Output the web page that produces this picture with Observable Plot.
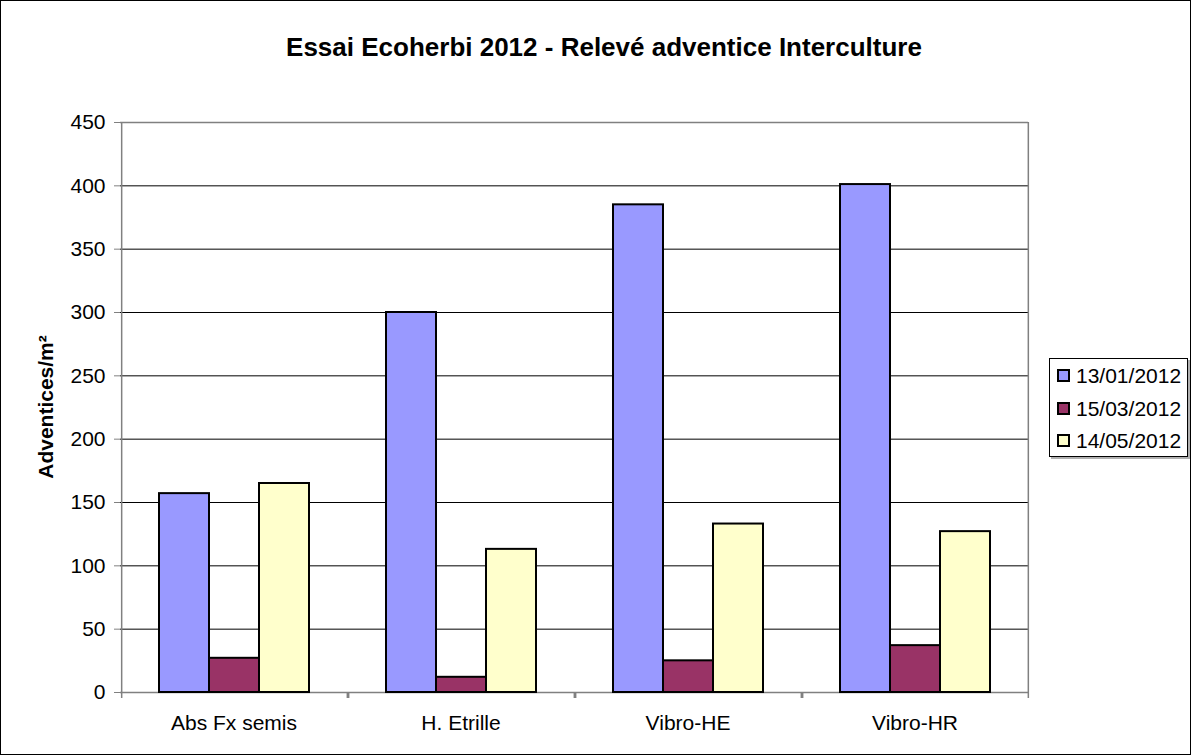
<!DOCTYPE html>
<html><head><meta charset="utf-8">
<script src="https://cdn.jsdelivr.net/npm/d3@7"></script>
<script src="https://cdn.jsdelivr.net/npm/@observablehq/plot@0.6"></script>
<style>
body{margin:0;background:#fff;font-family:"Liberation Sans",Arial,sans-serif;color:#000;}
#wrap{position:relative;width:1192px;height:756px;overflow:hidden;background:#fff;}
#border{position:absolute;left:0;top:0;width:1191px;height:755px;border:1px solid #000;box-sizing:border-box;pointer-events:none;}
#chart{position:absolute;left:0;top:0;}
#title{position:absolute;left:8px;top:34px;width:1192px;text-align:center;font-weight:bold;font-size:26px;line-height:26px;white-space:nowrap;}
#ylabel{position:absolute;left:45px;top:407px;transform:translate(-50%,-50%) rotate(-90deg);font-weight:bold;font-size:21px;line-height:21px;white-space:nowrap;}
#legend{position:absolute;left:1049px;top:358px;width:139px;height:99px;border:1px solid #000;box-sizing:border-box;background:#fff;box-shadow:2px 2px 0 #b0b0b0;}
.item{position:absolute;left:0;height:21px;line-height:21px;font-size:21px;white-space:nowrap;}
.sw{position:absolute;left:7px;top:4px;width:9px;height:9px;border:2px solid #000;}
.lt{position:absolute;left:26px;top:0;}
</style></head><body>
<div id="wrap">
  <div id="chart"></div>
  <div id="title">Essai Ecoherbi 2012 - Relevé adventice Interculture</div>
  <div id="ylabel">Adventices/m²</div>
  <div id="legend"></div>
  <div id="border"></div>
</div>
<script>
const categories = ["Abs Fx semis", "H. Etrille", "Vibro-HE", "Vibro-HR"];
const series = ["13/01/2012", "15/03/2012", "14/05/2012"];
const values_13_01_2012 = [157, 300, 385, 401];
const values_15_03_2012 = [27, 12, 25, 37];
const values_14_05_2012 = [165, 113, 133, 127];
const seriesColors = ["#9999ff", "#993366", "#ffffcc"];
const yTicks = [0, 50, 100, 150, 200, 250, 300, 350, 400, 450];

const seriesValues = [values_13_01_2012, values_15_03_2012, values_14_05_2012];
const data = [];
categories.forEach((c, i) => series.forEach((s, j) => data.push({category: c, series: s, value: seriesValues[j][i]})));

const W = 1192, H = 756, mL = 120, mR = 164, mT = 122, mB = 64;
const PO = 0.74;
const facetW = (W - mL - mR) / categories.length;
const step = facetW / (series.length + 2 * PO);
const edge = PO * step + step / 2;
const yMax = yTicks[yTicks.length - 1];
const cats = categories.map(c => ({category: c}));

const chart = Plot.plot({
  width: W, height: H,
  marginLeft: mL, marginRight: mR, marginTop: mT, marginBottom: mB,
  style: {fontFamily: "Liberation Sans, Arial, sans-serif", fontSize: "21px", color: "#000", background: "transparent"},
  fx: {domain: categories, paddingInner: 0, paddingOuter: 0, label: null, axis: null},
  x: {domain: series, paddingInner: 0, paddingOuter: PO, axis: null},
  y: {domain: [0, yMax], axis: null},
  color: {domain: series, range: seriesColors},
  marks: [
    Plot.ruleY(yTicks.slice(1, -1), {stroke: "#000", strokeWidth: 1}),
    Plot.ruleY([0, yMax], {stroke: "#808080", strokeWidth: 1.5}),
    // left and right sides of the plot frame
    Plot.ruleX(cats.slice(0, 1), {fx: "category", x: () => series[0], y1: 0, y2: yMax, dx: -edge, stroke: "#808080", strokeWidth: 1.5}),
    Plot.ruleX(cats.slice(-1), {fx: "category", x: () => series[series.length - 1], y1: 0, y2: yMax, dx: edge, stroke: "#808080", strokeWidth: 1.5}),
    // category boundary ticks
    Plot.ruleX(cats, {fx: "category", x: () => series[0], y1: 0, y2: 0, insetBottom: -6, dx: -edge, stroke: "#808080", strokeWidth: 1.5}),
    Plot.ruleX(cats, {fx: "category", x: () => series[series.length - 1], y1: 0, y2: 0, insetBottom: -6, dx: edge, stroke: "#808080", strokeWidth: 1.5}),
    Plot.barY(data, {fx: "category", x: "series", y: "value", fill: "series", stroke: "#000", strokeWidth: 2}),
    Plot.axisY({ticks: yTicks, tickSize: 6, tickPadding: 9, stroke: "#808080", fill: "#000", label: null, fontSize: 21, tickFormat: d => String(d)}),
    Plot.axisFx({anchor: "bottom", tickSize: 0, tickPadding: 23, label: null, fontSize: 21, fill: "#000"})
  ]
});
document.getElementById("chart").appendChild(chart);

const legend = document.getElementById("legend");
series.forEach((s, j) => {
  const it = document.createElement("div");
  it.className = "item";
  it.style.top = (6 + j * 32.5) + "px";
  const sw = document.createElement("div");
  sw.className = "sw";
  sw.style.background = seriesColors[j];
  const lt = document.createElement("div");
  lt.className = "lt";
  lt.textContent = s;
  it.appendChild(sw); it.appendChild(lt);
  legend.appendChild(it);
});
</script>
</body></html>
